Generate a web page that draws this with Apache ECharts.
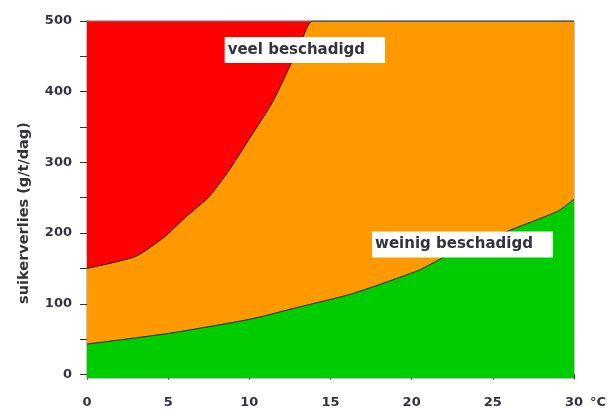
<!DOCTYPE html>
<html>
<head>
<meta charset="utf-8">
<script src="https://cdn.jsdelivr.net/npm/echarts@6/dist/echarts.min.js"></script>
<style>
  html, body { margin: 0; padding: 0; background: #fff; }
  #chart { width: 614px; height: 414px; }
</style>
</head>
<body>
<div id="chart"></div>
<script>
var myChart = echarts.init(document.getElementById('chart'));

// grens rood / oranje (veel beschadigd)
var upperLine = [[0, 150], [3, 167], [4.8, 195], [6, 221], [7.5, 251], [8.7, 287],
    [10.1, 337], [11.4, 384], [12.4, 431], [13.2, 471], [13.9, 500], [30, 500]];
// grens oranje / groen (weinig beschadigd)
var lowerLine = [[0, 43], [5, 58], [10, 78], [13, 95], [16.3, 114], [20.4, 147],
    [22, 166], [24, 185], [26.6, 209], [29, 231], [30, 248]];
var topLine = [[0, 500], [30, 500]];

var xTicks = [0, 5, 10, 15, 20, 25, 30];
var yLabels = [0, 100, 200, 300, 400, 500];
var yTicks = [0, 50, 100, 150, 200, 250, 300, 350, 400, 450, 500];

var labelFont = 'DejaVu Sans';
var textColor = '#333340';

option = {
    animation: false,
    backgroundColor: '#fff',
    grid: {
        left: 87,
        right: 40,
        top: 21,
        bottom: 36,
        show: true,
        borderColor: '#888',
        borderWidth: 1
    },
    xAxis: {
        type: 'value',
        min: 0,
        max: 30,
        interval: 5,
        splitLine: { show: false },
        axisLine: { lineStyle: { color: '#333', width: 1 } },
        axisTick: { show: true, length: 5, lineStyle: { color: '#333' } },
        axisLabel: {
            margin: 18,
            fontFamily: labelFont,
            fontWeight: 'bold',
            fontSize: 13,
            color: textColor,
            customValues: xTicks
        }
    },
    yAxis: {
        type: 'value',
        min: -5,
        max: 500,
        splitLine: { show: false },
        axisLine: { show: true, lineStyle: { color: '#333', width: 1 } },
        axisTick: { show: true, length: 7, lineStyle: { color: '#333' }, customValues: yTicks },
        axisLabel: {
            margin: 15,
            fontFamily: labelFont,
            fontWeight: 'bold',
            fontSize: 13,
            color: textColor,
            customValues: yLabels
        }
    },
    graphic: [{
        type: 'text',
        x: 24,
        y: 213,
        rotation: Math.PI / 2,
        style: {
            text: 'suikerverlies (g/t/dag)',
            fontFamily: labelFont,
            fontWeight: 'bold',
            fontSize: 14.5,
            fill: textColor,
            align: 'center',
            verticalAlign: 'middle'
        }
    }, {
        type: 'text',
        x: 590,
        y: 403,
        style: {
            text: '°C',
            fontFamily: labelFont,
            fontWeight: 'bold',
            fontSize: 13,
            fill: textColor,
            align: 'left',
            verticalAlign: 'middle'
        }
    }],
    series: [{
        // veel beschadigd
        type: 'line',
        data: topLine,
        symbol: 'none',
        lineStyle: { color: '#888', width: 1 },
        areaStyle: { color: '#ff0000', opacity: 1, origin: 'start' }
    }, {
        type: 'line',
        data: upperLine,
        symbol: 'none',
        smooth: 0.2,
        lineStyle: { color: '#222', width: 1 },
        areaStyle: { color: '#ff9900', opacity: 1, origin: 'start' }
    }, {
        // weinig beschadigd
        type: 'line',
        data: lowerLine,
        symbol: 'none',
        smooth: 0.2,
        lineStyle: { color: '#222', width: 1 },
        areaStyle: { color: '#00cc00', opacity: 1, origin: 'start' },
        markPoint: {
            symbol: 'rect',
            symbolSize: 0,
            label: {
                show: true,
                position: 'right',
                distance: 0,
                backgroundColor: '#fff',
                padding: [6, 20, 5, 3],
                fontFamily: labelFont,
                fontWeight: 'bold',
                fontSize: 15,
                color: textColor,
                formatter: function (p) { return p.name; }
            },
            data: [
                { name: 'veel beschadigd', coord: [8.48, 459] },
                { name: 'weinig beschadigd', coord: [17.56, 184] }
            ]
        }
    }]
};

myChart.setOption(option);
</script>
</body>
</html>
